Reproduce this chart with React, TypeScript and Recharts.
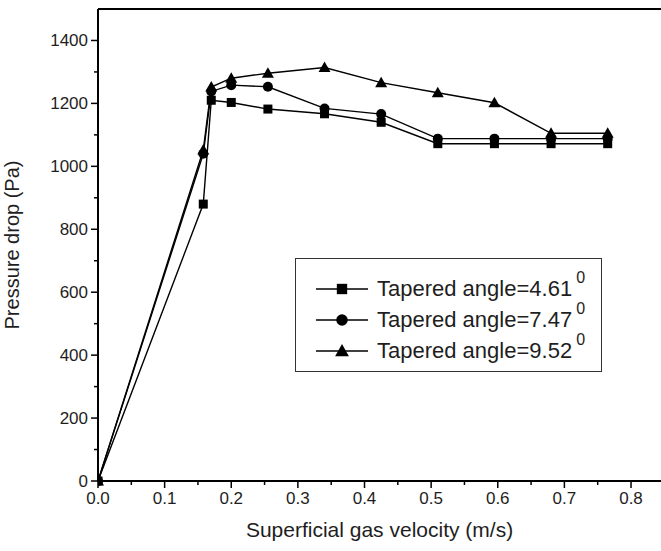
import React from "react";
import { LineChart, Line, XAxis, YAxis, Legend, ReferenceLine } from "recharts";

// superficial gas velocity (m/s)
const velocity = [0, 0.158, 0.17, 0.2, 0.255, 0.34, 0.425, 0.51, 0.595, 0.68, 0.765];
// pressure drop (Pa) per tapered angle
const angle461 = [0, 880, 1210, 1203, 1182, 1167, 1140, 1072, 1072, 1072, 1072];
const angle747 = [0, 1040, 1238, 1258, 1253, 1184, 1166, 1088, 1088, 1088, 1088];
const angle952 = [0, 1052, 1252, 1280, 1296, 1314, 1266, 1234, 1202, 1105, 1105];

const seriesNames = ["Tapered angle=4.61", "Tapered angle=7.47", "Tapered angle=9.52"];

const xTicks = [0, 0.05, 0.1, 0.15, 0.2, 0.25, 0.3, 0.35, 0.4, 0.45, 0.5, 0.55, 0.6, 0.65, 0.7, 0.75, 0.8];
const yTicks = [0, 100, 200, 300, 400, 500, 600, 700, 800, 900, 1000, 1100, 1200, 1300, 1400];

const data = velocity.map((v, i) => ({
  v,
  a461: angle461[i],
  a747: angle747[i],
  a952: angle952[i],
}));

const FONT = "'Liberation Sans', Arial, sans-serif";
const TEXT = "#1e1e1e";

type Shape = "square" | "circle" | "triangle";
const shapes: Shape[] = ["square", "circle", "triangle"];

function Marker({ cx, cy, shape, s = 1 }: { cx: number; cy: number; shape: Shape; s?: number }) {
  if (shape === "square")
    return <rect x={cx - 4.5 * s} y={cy - 4.5 * s} width={9 * s} height={9 * s} fill="#000" />;
  if (shape === "circle") return <circle cx={cx} cy={cy} r={5 * s} fill="#000" />;
  return (
    <polygon
      points={`${cx},${cy - 6 * s} ${cx + 6 * s},${cy + 4.5 * s} ${cx - 6 * s},${cy + 4.5 * s}`}
      fill="#000"
    />
  );
}

const dotFor = (shape: Shape) => (p: any) =>
  <Marker key={`${shape}-${p.index}`} cx={p.cx} cy={p.cy} shape={shape} />;

function XTick({ x, y, payload }: any) {
  const v = payload.value as number;
  const major = Math.round(v * 100) % 10 === 0;
  return (
    <g>
      <line x1={x} y1={y} x2={x} y2={y + (major ? 7 : 4)} stroke="#000" strokeWidth={1.5} />
      {major && (
        <text x={x} y={y + 23} textAnchor="middle" fontSize={17} fill={TEXT} fontFamily={FONT}>
          {v.toFixed(1)}
        </text>
      )}
    </g>
  );
}

function YTick({ x, y, payload }: any) {
  const v = payload.value as number;
  const major = v % 200 === 0;
  return (
    <g>
      <line x1={x} y1={y} x2={x - (major ? 7 : 4)} y2={y} stroke="#000" strokeWidth={1.5} />
      {major && (
        <text x={x - 10} y={y + 6} textAnchor="end" fontSize={17} fill={TEXT} fontFamily={FONT}>
          {v}
        </text>
      )}
    </g>
  );
}

function LegendBox({ payload }: any) {
  return (
    <div
      style={{
        border: "1.5px solid #333",
        boxSizing: "border-box",
        width: 307,
        height: 114,
        paddingTop: 14,
        background: "#fff",
        fontFamily: FONT,
        color: TEXT,
      }}
    >
      {(payload || []).map((entry: any, i: number) => (
        <div key={entry.value} style={{ display: "flex", alignItems: "center", height: 31 }}>
          <svg width={52} height={16} style={{ marginLeft: 20, flex: "none" }}>
            <line x1={0} y1={8} x2={52} y2={8} stroke="#000" strokeWidth={1.5} />
            <Marker cx={26} cy={8} shape={shapes[i]} s={1.15} />
          </svg>
          <span style={{ marginLeft: 9, fontSize: 22, whiteSpace: "nowrap" }}>{entry.value}</span>
          <span style={{ marginLeft: 4, fontSize: 16, position: "relative", top: -11 }}>0</span>
        </div>
      ))}
    </div>
  );
}

export default function App() {
  return (
    <div style={{ position: "absolute", left: 0, top: 0, background: "#fff" }}>
      <LineChart width={661} height={551} data={data} margin={{ top: 9, right: 0, bottom: 0, left: 0 }}>
        <XAxis
          dataKey="v"
          type="number"
          domain={[0, 0.845]}
          ticks={xTicks}
          interval={0}
          tick={<XTick />}
          tickLine={false}
          tickSize={0}
          tickMargin={0}
          height={70}
          axisLine={{ stroke: "#000", strokeWidth: 2 }}
          allowDataOverflow
          label={{
            value: "Superficial gas velocity (m/s)",
            position: "insideBottom",
            offset: 14,
            style: { fontSize: 21, fill: TEXT, fontFamily: FONT },
          }}
        />
        <YAxis
          type="number"
          domain={[0, 1500]}
          ticks={yTicks}
          interval={0}
          tick={<YTick />}
          tickLine={false}
          tickSize={0}
          tickMargin={0}
          width={98}
          axisLine={{ stroke: "#000", strokeWidth: 2 }}
          label={{
            value: "Pressure drop (Pa)",
            angle: -90,
            position: "insideLeft",
            offset: 12,
            style: { fontSize: 20, fill: TEXT, fontFamily: FONT, textAnchor: "middle" },
          }}
        />
        <ReferenceLine y={1500} stroke="#000" strokeWidth={2} ifOverflow="visible" />
        <Legend
          layout="horizontal"
          verticalAlign="middle"
          content={<LegendBox />}
          wrapperStyle={{ left: 295, top: 258, width: 307, height: 114 }}
        />
        <Line
          name={seriesNames[0]}
          dataKey="a461"
          stroke="#000"
          strokeWidth={1.4}
          dot={dotFor("square")}
          activeDot={false}
          isAnimationActive={false}
        />
        <Line
          name={seriesNames[1]}
          dataKey="a747"
          stroke="#000"
          strokeWidth={1.4}
          dot={dotFor("circle")}
          activeDot={false}
          isAnimationActive={false}
        />
        <Line
          name={seriesNames[2]}
          dataKey="a952"
          stroke="#000"
          strokeWidth={1.4}
          dot={dotFor("triangle")}
          activeDot={false}
          isAnimationActive={false}
        />
      </LineChart>
    </div>
  );
}
